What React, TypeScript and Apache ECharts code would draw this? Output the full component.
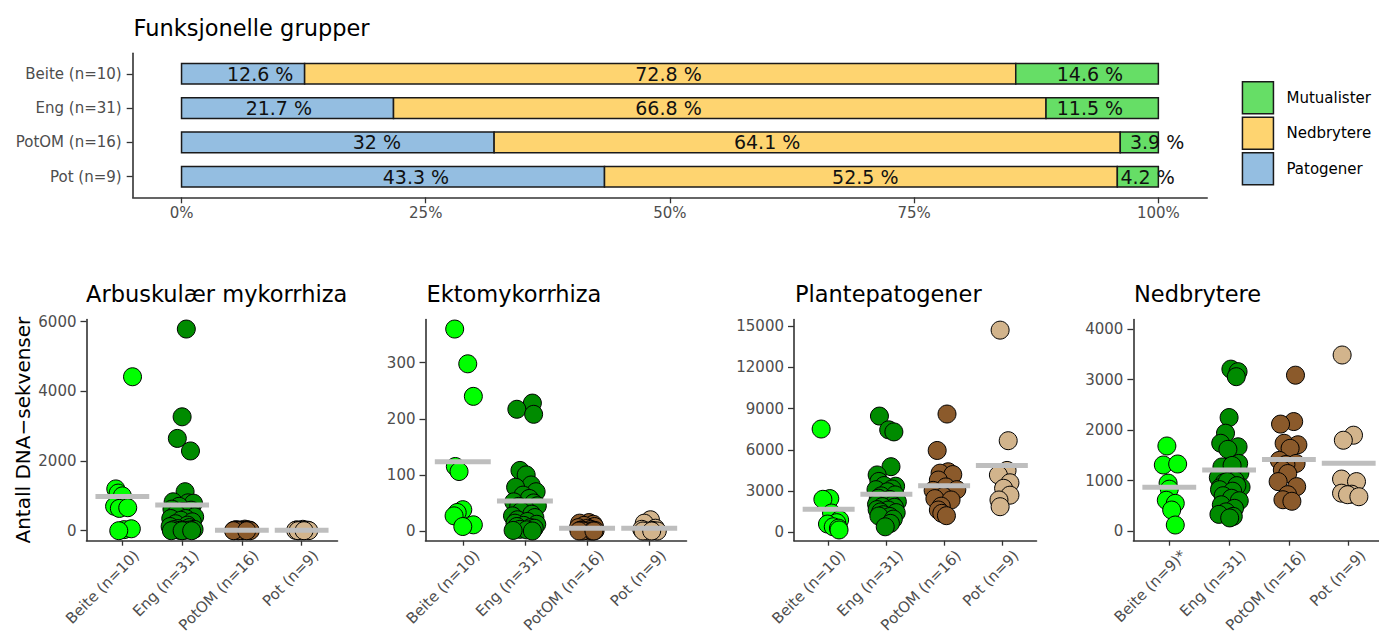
import React, { useEffect, useRef } from "react";
import * as echarts from "echarts";

// ---------- Top chart: functional groups (percent) ----------
const groups = ["Beite (n=10)", "Eng (n=31)", "PotOM (n=16)", "Pot (n=9)"];
const patogener = [12.6, 21.7, 32, 43.3];
const nedbrytere = [72.8, 66.8, 64.1, 52.5];
const mutualister = [14.6, 11.5, 3.9, 4.2];
// where each percent label sits along the 0-100 axis
const patogenerLabelAt = [8.05, 9.96, 20.0, 24.0];
const nedbrytereLabelAt = [49.85, 49.85, 59.95, 70.0];
const mutualisterLabelAt = [93.0, 93.0, 99.87, 98.9];
const percentTicks = [0, 25, 50, 75, 100];
const legendOrder = ["Mutualister", "Nedbrytere", "Patogener"];

// ---------- Bottom panels: number of DNA sequences ----------
const siteLabels = ["Beite (n=10)", "Eng (n=31)", "PotOM (n=16)", "Pot (n=9)"];
const siteLabelsNed = ["Beite (n=9)*", "Eng (n=31)", "PotOM (n=16)", "Pot (n=9)"];
const sitePositions = [1, 2, 3, 4];

const amTicks = [0, 2000, 4000, 6000];
const ektoTicks = [0, 100, 200, 300];
const plTicks = [0, 3000, 6000, 9000, 12000, 15000];
const nbTicks = [0, 1000, 2000, 3000, 4000];

// Arbuskulær mykorrhiza
const amBeite = [4420, 1200, 1080, 1000, 700, 640, 660, 30, 55, 0];
const amBeiteJit = [0.17, -0.11, -0.07, 0.0, -0.13, -0.05, 0.09, 0.03, 0.15, -0.06];
const amEng = [5790, 3270, 2650, 2290, 1120, 830, 800, 790, 700, 620, 590, 550, 480, 400, 350, 350, 300, 255, 200, 160, 120, 90, 60, 40, 30, 20, 10, 13, 0, 0, 0];
const amEngJit = [0.07, 0.0, -0.08, 0.14, 0.05, -0.15, 0.1, 0.19, -0.05, -0.17, 0.15, 0.02, -0.1, 0.21, -0.19, 0.06, -0.02, 0.17, -0.11, 0.09, -0.2, 0.12, -0.07, 0.2, -0.14, 0.13, -0.04, 0.05, -0.18, 0.0, 0.16];
const amPotOM = [45, 30, 25, 20, 15, 12, 10, 8, 5, 5, 3, 2, 0, 0, 0, 0];
const amPotOMJit = [0.05, -0.1, 0.09, -0.04, 0.13, -0.13, 0.0, 0.07, -0.08, 0.11, -0.12, 0.02, -0.06, 0.14, -0.14, 0.08];
const amPot = [40, 25, 15, 10, 8, 5, 3, 0, 0];
const amPotJit = [0.02, -0.08, 0.1, -0.1, 0.06, -0.03, 0.12, -0.06, 0.04];

// Ektomykorrhiza
const ektoBeite = [360, 298, 240, 115, 106, 38, 33, 27, 11, 8];
const ektoBeiteJit = [-0.13, 0.08, 0.17, -0.12, -0.06, 0.0, -0.09, -0.14, 0.17, 0.0];
const ektoEng = [228, 217, 208, 108, 100, 82, 78, 70, 64, 58, 52, 50, 44, 45, 40, 35, 30, 27, 24, 20, 17, 14, 12, 10, 8, 6, 5, 3, 2, 1, 0];
const ektoEngJit = [0.12, -0.13, 0.14, -0.08, 0.02, 0.1, -0.15, 0.18, -0.03, 0.07, -0.18, 0.14, -0.1, 0.2, 0.0, -0.06, 0.11, -0.2, 0.16, -0.12, 0.04, -0.16, 0.19, -0.02, -0.13, 0.09, 0.15, -0.08, 0.03, -0.19, 0.12];
const ektoPotOM = [15, 14, 12, 10, 8, 6, 5, 3, 2, 1, 1, 0, 0, 0, 0, 0];
const ektoPotOMJit = [0.03, -0.12, 0.1, -0.05, 0.12, -0.14, 0.01, 0.06, -0.09, 0.13, -0.11, 0.04, -0.07, 0.09, -0.13, 0.11];
const ektoPot = [20, 14, 5, 3, 1, 0, 0, 0, 0];
const ektoPotJit = [0.02, -0.08, 0.1, -0.12, 0.06, -0.03, 0.13, -0.1, 0.04];

// Plantepatogener
const plBeite = [7510, 2450, 2400, 1400, 900, 700, 600, 400, 300, 170];
const plBeiteJit = [-0.13, 0.02, -0.1, 0.05, 0.19, 0.14, -0.02, 0.08, 0.17, 0.18];
const plEng = [8450, 7450, 7300, 4770, 4170, 3700, 3350, 3400, 3150, 3100, 2950, 2650, 2720, 2480, 2390, 2250, 2230, 2040, 1980, 1870, 1820, 1650, 1620, 1480, 1430, 1280, 1150, 1185, 960, 650, 400];
const plEngJit = [-0.12, 0.04, 0.13, 0.08, -0.16, -0.13, 0.16, -0.04, 0.1, -0.18, 0.02, -0.09, 0.15, -0.14, 0.06, -0.02, 0.19, -0.17, 0.11, -0.07, 0.14, -0.16, 0.03, -0.1, 0.17, -0.05, 0.06, -0.13, 0.12, 0.07, -0.02];
const plPotOM = [8600, 5950, 4400, 4300, 4200, 3800, 3300, 3100, 3050, 2600, 2450, 2350, 1900, 1620, 1380, 1208];
const plPotOMJit = [0.05, -0.12, 0.07, -0.07, 0.15, -0.1, 0.03, 0.22, -0.19, -0.01, -0.16, 0.12, -0.05, -0.1, -0.04, 0.04];
const plPot = [14700, 6660, 4500, 4170, 3600, 3200, 2700, 2350, 1860];
const plPotJit = [-0.03, 0.11, 0.09, -0.06, 0.14, 0.03, 0.14, -0.05, -0.03];

// Nedbrytere
const nbBeite = [1686, 1309, 1329, 950, 830, 610, 549, 416, 119];
const nbBeiteJit = [-0.04, -0.1, 0.14, -0.02, 0.0, -0.05, 0.1, 0.04, 0.1];
const nbEng = [3210, 3160, 3060, 2250, 1940, 1740, 1380, 1670, 1620, 1270, 1150, 1060, 1340, 1300, 960, 870, 860, 1000, 980, 900, 820, 790, 700, 650, 600, 520, 450, 380, 330, 290, 260];
const nbEngJit = [0.03, 0.15, 0.12, 0.0, -0.06, -0.14, 0.08, 0.15, -0.02, -0.12, 0.18, -0.18, 0.16, 0.05, -0.08, 0.2, -0.15, 0.1, -0.03, 0.13, -0.16, 0.06, -0.1, 0.04, 0.17, -0.13, 0.09, -0.05, -0.17, 0.07, 0.01];
const nbPotOM = [3090, 2170, 2120, 1740, 1710, 1640, 1400, 1340, 1320, 1210, 1140, 980, 880, 720, 620, 590];
const nbPotOMJit = [0.11, 0.08, -0.14, -0.08, 0.15, 0.02, -0.16, 0.12, -0.05, -0.11, -0.02, -0.18, 0.13, -0.02, -0.1, 0.05];
const nbPot = [3490, 1900, 1800, 1030, 980, 750, 730, 720, 680];
const nbPotJit = [-0.11, 0.08, -0.09, -0.12, 0.13, -0.12, 0.05, -0.02, 0.17];

// ---------- styling ----------
const FONT = "DejaVu Sans";
const TICK_TEXT = "#4D4D4D";
const AXIS_COLOR = "#333333";
const BLUE = "#94BEE1";
const YELLOW = "#FED470";
const GREEN = "#66DE66";
const siteColors = ["#00FF00", "#008B00", "#8B5A2B", "#D2B48C"];
const yName = "Antall DNA\u2212sekvenser";

function mean(a: number[]) {
  return a.reduce((s, v) => s + v, 0) / a.length;
}

function buildOption() {
  const axisLine = { show: true, onZero: false, lineStyle: { color: AXIS_COLOR, width: 1.6 } };
  const tickStyle = { color: AXIS_COLOR, width: 1.3 };
  const labelBase = { color: TICK_TEXT, fontSize: 15, fontFamily: FONT };

  const gridBoxes = [
    { left: 132.7, top: 53.2, width: 1074.5, height: 144.1 },
    { left: 86.5, top: 319.5, width: 251, height: 221.2 },
    { left: 425.5, top: 319.5, width: 261, height: 221.2 },
    { left: 794, top: 319.5, width: 242.5, height: 221.2 },
    { left: 1133.4, top: 319.5, width: 251.2, height: 221.2 },
  ];
  const grid: any[] = gridBoxes.map((g) => ({ ...g, containLabel: false, outerBoundsMode: "none" }));

  const xAxis: any[] = [];
  const yAxis: any[] = [];
  const series: any[] = [];

  // ---- top chart axes ----
  xAxis.push({
    gridIndex: 0,
    type: "value",
    min: -5,
    max: 105,
    axisLine,
    splitLine: { show: false },
    axisTick: { show: true, length: 6, customValues: percentTicks, lineStyle: tickStyle },
    axisLabel: { ...labelBase, customValues: percentTicks, margin: 8, formatter: (v: number) => `${v}%` },
  });
  yAxis.push({
    gridIndex: 0,
    type: "value",
    min: 0.4,
    max: 4.6,
    inverse: true,
    axisLine,
    splitLine: { show: false },
    axisTick: { show: true, length: 6, customValues: sitePositions, lineStyle: tickStyle },
    axisLabel: {
      ...labelBase,
      customValues: sitePositions,
      margin: 11,
      formatter: (v: number) => groups[Math.round(v) - 1] ?? "",
    },
  });

  const stackDefs = [
    { name: "Patogener", values: patogener, at: patogenerLabelAt, color: BLUE },
    { name: "Nedbrytere", values: nedbrytere, at: nedbrytereLabelAt, color: YELLOW },
    { name: "Mutualister", values: mutualister, at: mutualisterLabelAt, color: GREEN },
  ];
  const cum = groups.map(() => 0);
  stackDefs.forEach((def) => {
    const data = def.values.map((v, i) => {
      const start = cum[i];
      cum[i] += v;
      return [start, cum[i], i + 1, def.at[i], v];
    });
    series.push({
      type: "custom",
      name: def.name,
      xAxisIndex: 0,
      yAxisIndex: 0,
      itemStyle: { color: def.color },
      encode: { x: [0, 1], y: 2 },
      data,
      z: 2,
      renderItem: (_params: any, api: any) => {
        const s = api.value(0);
        const e = api.value(1);
        const r = api.value(2);
        const at = api.value(3);
        const v = api.value(4);
        const p0 = api.coord([s, r]);
        const p1 = api.coord([e, r]);
        const h = api.size([0, 0.6])[1];
        const pl = api.coord([at, r]);
        return {
          type: "group",
          children: [
            {
              type: "rect",
              shape: { x: p0[0], y: p0[1] - h / 2, width: p1[0] - p0[0], height: h },
              style: { fill: api.visual("color"), stroke: "#1a1a1a", lineWidth: 1.5 },
            },
            {
              type: "text",
              x: pl[0],
              y: pl[1],
              z2: 10,
              style: {
                text: `${v} %`,
                fill: "#111111",
                fontSize: 19,
                fontFamily: FONT,
                align: "center",
                verticalAlign: "middle",
              },
            },
          ],
        };
      },
    });
  });

  // ---- bottom panels ----
  const panels = [
    {
      labels: siteLabels,
      values: [amBeite, amEng, amPotOM, amPot],
      jitter: [amBeiteJit, amEngJit, amPotOMJit, amPotJit],
      min: -287,
      max: 6064,
      ticks: amTicks,
    },
    {
      labels: siteLabels,
      values: [ektoBeite, ektoEng, ektoPotOM, ektoPot],
      jitter: [ektoBeiteJit, ektoEngJit, ektoPotOMJit, ektoPotJit],
      min: -17.3,
      max: 377,
      ticks: ektoTicks,
    },
    {
      labels: siteLabels,
      values: [plBeite, plEng, plPotOM, plPot],
      jitter: [plBeiteJit, plEngJit, plPotOMJit, plPotJit],
      min: -611,
      max: 15473,
      ticks: plTicks,
    },
    {
      labels: siteLabelsNed,
      values: [nbBeite, nbEng, nbPotOM, nbPot],
      jitter: [nbBeiteJit, nbEngJit, nbPotOMJit, nbPotJit],
      min: -192,
      max: 4194,
      ticks: nbTicks,
    },
  ];

  panels.forEach((p, k) => {
    const gi = k + 1;
    // rotated labels hang with their top-right corner at the tick: nudge ~9px right
    const unitPx = gridBoxes[gi].width / 4.2;
    const labelShift = 9 / unitPx;
    xAxis.push({
      gridIndex: gi,
      type: "value",
      min: 0.4,
      max: 4.6,
      axisLine,
      splitLine: { show: false },
      axisTick: { show: true, length: 5, customValues: sitePositions, lineStyle: tickStyle },
      axisLabel: {
        ...labelBase,
        customValues: sitePositions.map((v) => v + labelShift),
        rotate: 45,
        align: "right",
        verticalAlign: "top",
        margin: 7,
        formatter: (v: number) => p.labels[Math.round(v) - 1] ?? "",
      },
    });
    const ya: any = {
      gridIndex: gi,
      type: "value",
      min: p.min,
      max: p.max,
      axisLine,
      splitLine: { show: false },
      axisTick: { show: true, length: 6, customValues: p.ticks, lineStyle: tickStyle },
      axisLabel: { ...labelBase, customValues: p.ticks, margin: 10, formatter: (v: number) => String(v) },
    };
    if (k === 0) {
      ya.name = yName;
      ya.nameLocation = "middle";
      ya.nameGap = 54;
      ya.nameTextStyle = { fontSize: 20, color: "#000000", fontFamily: FONT };
    }
    yAxis.push(ya);

    p.values.forEach((vals, g) => {
      series.push({
        type: "scatter",
        name: `${siteLabels[g]} ${k}`,
        xAxisIndex: gi,
        yAxisIndex: gi,
        symbol: "circle",
        symbolSize: 18,
        z: 2,
        itemStyle: { color: siteColors[g], borderColor: "#000000", borderWidth: 1, opacity: 1 },
        data: vals.map((v, i) => [g + 1 + p.jitter[g][i], v]),
      });
    });

    series.push({
      type: "custom",
      name: `mean ${k}`,
      xAxisIndex: gi,
      yAxisIndex: gi,
      z: 5,
      data: p.values.map((vals, g) => [g + 1, mean(vals)]),
      renderItem: (_params: any, api: any) => {
        const x = api.value(0);
        const y = api.value(1);
        const a = api.coord([x - 0.45, y]);
        const b = api.coord([x + 0.45, y]);
        return {
          type: "line",
          shape: { x1: a[0], y1: a[1], x2: b[0], y2: b[1] },
          style: { stroke: "#BEBEBE", lineWidth: 5 },
        };
      },
    });
  });

  const titleStyle = (text: string) => ({
    text,
    fontSize: 22.5,
    fontFamily: FONT,
    fill: "#000000",
    align: "left",
    verticalAlign: "middle",
  });

  return {
    animation: false,
    backgroundColor: "#ffffff",
    textStyle: { fontFamily: FONT },
    grid,
    xAxis,
    yAxis,
    series,
    legend: {
      data: legendOrder,
      orient: "vertical",
      left: 1241.7,
      top: 81,
      padding: 0,
      itemWidth: 31,
      itemHeight: 32,
      itemGap: 2,
      icon: "rect",
      selectedMode: false,
      itemStyle: { borderColor: "#1a1a1a", borderWidth: 1.5 },
      textStyle: { fontSize: 15, color: "#000000", fontFamily: FONT, padding: [0, 0, 0, 8] },
    },
    graphic: [
      { type: "text", x: 133.5, y: 28, style: titleStyle("Funksjonelle grupper") },
      { type: "text", x: 86, y: 294, style: titleStyle("Arbuskulær mykorrhiza") },
      { type: "text", x: 426.5, y: 294, style: titleStyle("Ektomykorrhiza") },
      { type: "text", x: 795, y: 294, style: titleStyle("Plantepatogener") },
      { type: "text", x: 1134, y: 294, style: titleStyle("Nedbrytere") },
    ],
  };
}

export default function App() {
  const ref = useRef<HTMLDivElement>(null);
  useEffect(() => {
    if (!ref.current) return;
    const chart = echarts.init(ref.current, null, { renderer: "svg" });
    chart.setOption(buildOption() as any);
    return () => chart.dispose();
  }, []);
  return (
    <div
      ref={ref}
      style={{ position: "absolute", left: 0, top: 0, width: 1379, height: 637 }}
    />
  );
}
